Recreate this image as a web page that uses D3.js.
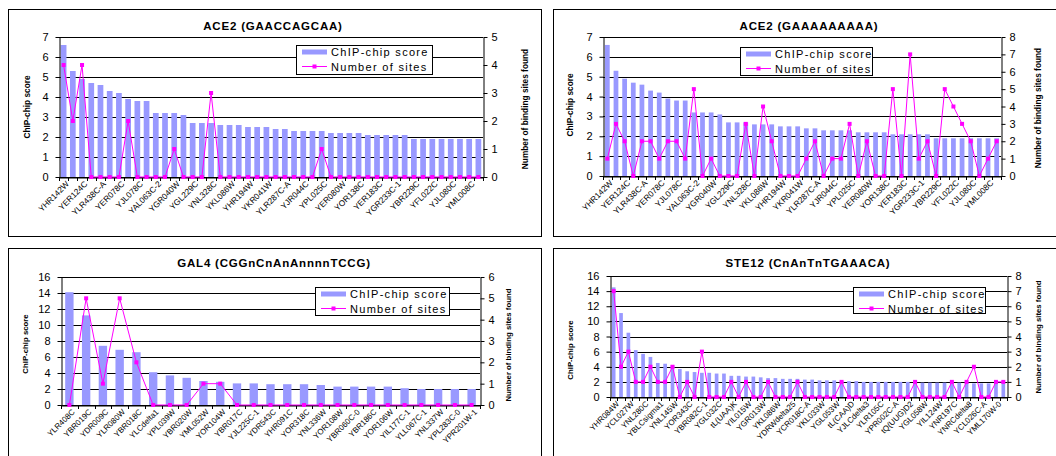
<!DOCTYPE html>
<html><head><meta charset="utf-8">
<script src="https://cdn.jsdelivr.net/npm/d3@7"></script>
<style>
body{margin:0;background:#fff;}
svg{display:block;font-family:"Liberation Sans",Arial,sans-serif;}
</style></head><body><svg id="c" width="1056" height="456"></svg>
<script>
// ---------- data ----------
const ace2Genes = ["YHR142W","YER124C","YLR438C-A","YER078C","YJL078C","YAL063C-2","YGR040W","YGL229C","YNL328C","YKL086W","YHR194W","YKR041W","YLR287C-A","YJR044C","YPL025C","YER080W","YOR138C","YER183C","YGR233C-1","YBR229C","YFL022C","YJL080C","YML008C"];
const ace2Score = [6.6,5.3,4.9,4.7,4.6,4.3,4.2,3.9,3.8,3.8,
                   3.2,3.2,3.2,3.1,2.7,2.7,2.7,2.6,2.6,2.6,
                   2.5,2.5,2.5,2.4,2.4,2.3,2.3,2.3,2.3,2.2,
                   2.2,2.2,2.2,2.1,2.1,2.1,2.1,2.1,1.9,1.9,
                   1.9,1.9,1.9,1.9,1.9,1.9];
const ace2SitesGAACCAGCAA = [4,2,4,0,0,0,0,2,0,0,
                             0,0,1,0,0,0,3,0,0,0,
                             0,0,0,0,0,0,0,0,1,0,
                             0,0,0,0,0,0,0,0,0,0,
                             0,0,0,0,0,0];
const ace2SitesGAAAAAAAAA = [1,3,2,0,2,2,1,2,2,1,
                             5,0,1,0,0,0,3,0,4,2,
                             0,0,0,1,2,0,1,1,3,0,
                             2,0,0,5,0,7,1,2,0,5,
                             4,3,2,0,1,2];
const gal4Genes = ["YLR408C","YBR019C","YDR009C","YLR080W","YBR018C","YLCdelta1","YPL039W","YBR020W","YML052W","YOR104W","YBR017C","YJL225C-1","YDR543C","YHR091C","YOR318C","YNL336W","YOR108W","YBR060C-0","YBR186C","YOR106W","YIL177C-1","YLL067C-1","YNL337W","YPL283C-0","YPR201W-1"];
const gal4Score = [14.1,11.2,7.4,6.9,6.6,4.1,3.7,3.4,3.0,2.9,
                   2.7,2.7,2.6,2.6,2.6,2.5,2.3,2.3,2.3,2.3,
                   2.1,2.0,2.0,2.0,2.0];
const gal4Sites = [0,5,1,5,2,0,0,0,1,1,0,0,0,0,0,0,0,0,0,0,0,0,0,0,0];
const ste12Genes = ["YHR084W","YCL027W","YNL280C","YBLCsigma1","YNL145W","YOR343C","YBR082C-1","YGL032C","tL(UAA)K","YIL015W","YGR013W","YKL086W","YDRWdelta25","YCR018C-A","YKL033W","YGL053W","tL(CAA)D","YJLCdelta3","YLR105C","YPR002C-A","tQ(UUG)D2","YGL058W","YIL124W","YNR197C","YNRCdelta8","YCL026C-A","YML170W-0"];
const ste12Score = [14.5,11.1,8.5,6.2,5.7,5.3,4.5,4.4,4.2,3.7,
                    3.4,3.3,3.2,3.2,3.1,3.1,2.8,2.8,2.7,2.7,
                    2.6,2.5,2.5,2.4,2.4,2.4,2.3,2.3,2.2,2.2,
                    2.2,2.1,2.1,2.1,2.0,2.0,2.0,2.0,2.0,2.0,
                    2.0,2.0,1.9,1.9,1.9,1.9,1.9,1.9,1.9,1.8,
                    1.8,1.8,1.9,1.9];
const ste12Sites = [7,2,3,1,1,2,1,1,2,0,
                    1,0,3,0,0,0,1,0,1,0,
                    0,1,0,0,0,1,0,0,0,0,
                    0,1,0,0,0,0,0,0,0,0,
                    0,1,0,0,0,0,1,0,1,2,
                    0,0,1,1];
const ace2ScoreTicks = [0,1,2,3,4,5,6,7];
const ace2SitesATicks = [0,1,2,3,4,5];
const ace2SitesBTicks = [0,1,2,3,4,5,6,7,8];
const gal4ScoreTicks = [0,2,4,6,8,10,12,14,16];
const gal4SitesTicks = [0,1,2,3,4,5,6];
const ste12ScoreTicks = [0,2,4,6,8,10,12,14,16];
const ste12SitesTicks = [0,1,2,3,4,5,6,7,8];
const panelTitles = ["ACE2 (GAACCAGCAA)","ACE2 (GAAAAAAAAA)","GAL4 (CGGnCnAnAnnnnTCCG)","STE12 (CnAnTnTGAAACA)"];
const legendLabels = ["ChIP-chip score","Number of sites"];
const leftTitle = "ChIP-chip score";
const rightTitle = "Number of binding sites found";

// ---------- drawing ----------
const svg = d3.select("#c");
svg.append("rect").attr("width",1056).attr("height",456).attr("fill","#fff");
const BAR = "#9999ff", LINE = "#ff00ff";
const intFmt = d3.format("d");

function panel(c){
  const g = svg.append("g");
  g.append("rect").attr("x",c.box[0]+0.5).attr("y",c.box[1]+0.5)
    .attr("width",c.box[2]).attr("height",c.box[3])
    .attr("fill","#fff").attr("stroke","#000").attr("stroke-width",1);
  const n = c.score.length;
  const x = d3.scaleBand().domain(d3.range(n)).range([c.x0,c.x1])
    .paddingInner(c.gap).paddingOuter(c.gap/2);
  const yL = d3.scaleLinear().domain([0,d3.max(c.lTicks)]).range([c.y0,c.yT]);
  const yR = d3.scaleLinear().domain([0,d3.max(c.rTicks)]).range([c.y0,c.yT]);
  const px = v => Math.round(v)+0.5;

  // gridlines
  g.append("g").selectAll("line").data(c.lTicks).join("line")
    .attr("x1",c.x0).attr("x2",c.x1)
    .attr("y1",d=>px(yL(d))).attr("y2",d=>px(yL(d)))
    .attr("stroke","#000").attr("stroke-width",1);

  // bars
  g.append("g").selectAll("rect").data(c.score).join("rect")
    .attr("x",(d,i)=>x(i)).attr("width",x.bandwidth())
    .attr("y",d=>yL(d)).attr("height",d=>yL(0)-yL(d))
    .attr("fill",BAR);

  // bottom axis
  const xa = g.append("g").attr("transform",`translate(0,${px(c.y0)})`)
    .call(d3.axisBottom(x).tickSize(0).tickPadding(0)
      .tickFormat(i => i % c.every === 0 ? c.labels[i/c.every] : ""));
  xa.select(".domain").attr("stroke","#000");
  xa.selectAll("text").attr("y",0).attr("dy","0.35em")
    .attr("transform",`translate(${c.lx},${c.ly}) rotate(-45)`)
    .style("text-anchor","end").style("font-size",c.labelSize+"px")
    .attr("fill","#000");
  // category boundary ticks
  g.append("g").selectAll("line").data(d3.range(n+1)).join("line")
    .attr("x1",i=>px(c.x0+i*x.step())).attr("x2",i=>px(c.x0+i*x.step()))
    .attr("y1",c.y0).attr("y2",c.y0+4).attr("stroke","#000");

  // left axis
  const la = g.append("g").attr("transform",`translate(${px(c.x0)},0)`)
    .call(d3.axisLeft(yL).tickValues(c.lTicks).tickFormat(intFmt).tickSize(4).tickSizeOuter(0).tickPadding(7));
  la.selectAll("line, path").attr("stroke","#000");
  la.selectAll("text").style("font-size","11px").attr("fill","#000");
  // right axis
  const ra = g.append("g").attr("transform",`translate(${px(c.x1)},0)`)
    .call(d3.axisRight(yR).tickValues(c.rTicks).tickFormat(intFmt).tickSize(4).tickSizeOuter(0).tickPadding(4));
  ra.selectAll("line, path").attr("stroke","#000");
  ra.selectAll("text").style("font-size","11px").attr("fill","#000");

  // line series
  const line = d3.line().x((d,i)=>x(i)+x.bandwidth()/2).y(d=>yR(d));
  g.append("path").datum(c.sites).attr("d",line)
    .attr("fill","none").attr("stroke",LINE).attr("stroke-width",1);
  g.append("g").selectAll("rect").data(c.sites).join("rect")
    .attr("x",(d,i)=>x(i)+x.bandwidth()/2-2).attr("y",d=>yR(d)-2)
    .attr("width",4).attr("height",4).attr("fill",LINE);

  // title
  g.append("text").attr("x",c.tx).attr("y",c.ty).attr("text-anchor","middle")
    .style("font-size","11.5px").style("font-weight","bold").style("letter-spacing","0.8px")
    .text(c.title);
  // axis titles
  g.append("text").attr("transform",`translate(${c.ltx},${c.lty}) rotate(-90)`)
    .attr("text-anchor","middle").style("font-size",c.atSize+"px").style("font-weight","bold")
    .text(leftTitle);
  g.append("text").attr("transform",`translate(${c.rtx},${c.rty}) rotate(-90)`)
    .attr("text-anchor","middle").style("font-size",c.atSize+"px").style("font-weight","bold")
    .text(rightTitle);

  // legend
  const [lx,ly,lw,lh] = c.legend;
  const lg = g.append("g").attr("transform",`translate(${lx},${ly})`);
  lg.append("rect").attr("x",0.5).attr("y",0.5).attr("width",lw).attr("height",lh)
    .attr("fill","#fff").attr("stroke","#000");
  lg.append("rect").attr("x",6).attr("y",4.5).attr("width",25).attr("height",5).attr("fill",BAR);
  lg.append("line").attr("x1",6).attr("x2",31).attr("y1",21.5).attr("y2",21.5).attr("stroke",LINE);
  lg.append("rect").attr("x",16.5).attr("y",19.5).attr("width",4).attr("height",4).attr("fill",LINE);
  lg.selectAll("text.lt").data(legendLabels).join("text").attr("class","lt")
    .attr("x",35).attr("y",(d,i)=>11 + i*14.5)
    .style("font-size","11px").style("letter-spacing","1.3px").text(d=>d);
}

panel({box:[8,9,533,227], x0:59, x1:483, yT:37, y0:177, gap:0.38,
  score:ace2Score, sites:ace2SitesGAACCAGCAA, labels:ace2Genes, every:2,
  lTicks:ace2ScoreTicks, rTicks:ace2SitesATicks, title:panelTitles[0], tx:273, ty:30,
  ltx:30, lty:107, rtx:528, rty:109, atSize:8.3, labelSize:8.3, lx:4, ly:5,
  legend:[296,45,136,29]});
panel({box:[553,9,520,227], x0:603, x1:1001, yT:37, y0:176, gap:0.45,
  score:ace2Score, sites:ace2SitesGAAAAAAAAA, labels:ace2Genes, every:2,
  lTicks:ace2ScoreTicks, rTicks:ace2SitesBTicks, title:panelTitles[1], tx:809, ty:30,
  ltx:573, lty:105, rtx:1041, rty:108, atSize:8.3, labelSize:8.3, lx:4, ly:5,
  legend:[740,47,132,28]});
panel({box:[8,248,533,240], x0:61, x1:480, yT:277, y0:405, gap:0.5,
  score:gal4Score, sites:gal4Sites, labels:gal4Genes, every:1,
  lTicks:gal4ScoreTicks, rTicks:gal4SitesTicks, title:panelTitles[2], tx:274, ty:267,
  ltx:28, lty:344, rtx:511, rty:345, atSize:7.8, labelSize:8, lx:4, ly:5,
  legend:[315,287,134,28]});
panel({box:[553,248,520,240], x0:610, x1:1007, yT:276, y0:397, gap:0.5,
  score:ste12Score, sites:ste12Sites, labels:ste12Genes, every:2,
  lTicks:ste12ScoreTicks, rTicks:ste12SitesTicks, title:panelTitles[3], tx:808, ty:267,
  ltx:573, lty:350, rtx:1041, rty:337, atSize:7.8, labelSize:8, lx:4, ly:5,
  legend:[853,287,132,26]});
</script></body></html>
